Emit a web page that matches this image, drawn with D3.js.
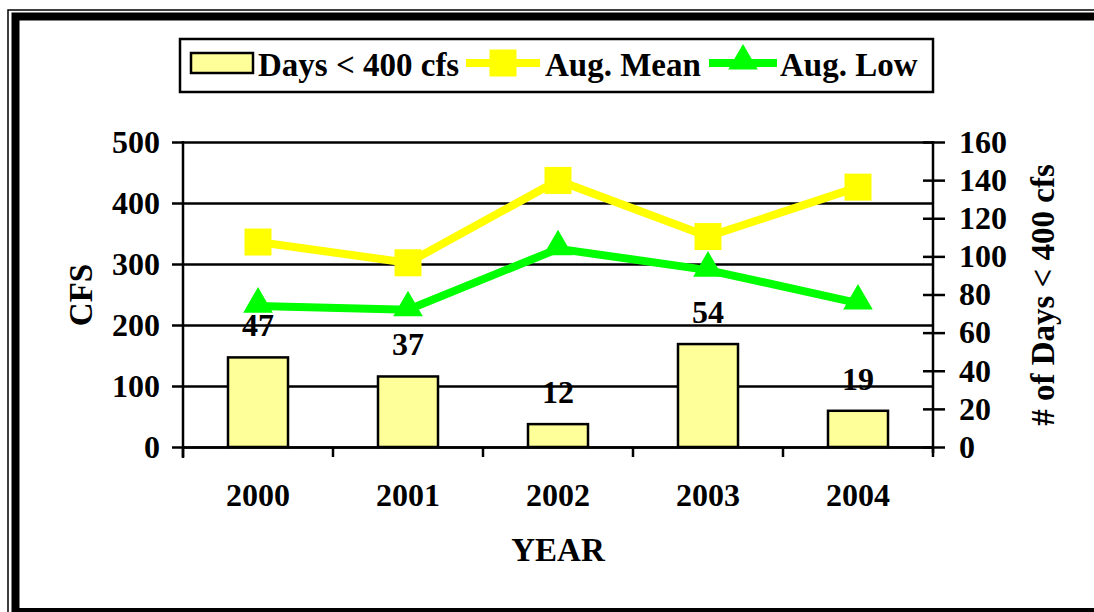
<!DOCTYPE html>
<html>
<head>
<meta charset="utf-8">
<script src="https://cdn.jsdelivr.net/npm/d3@7"></script>
<style>
  body { margin: 0; background: #fff; }
  svg text { font-family: "Liberation Serif", "Times New Roman", serif; font-weight: bold; fill: #000; }
</style>
</head>
<body>
<svg id="chart" width="1094" height="612"></svg>
<script>
// chart values
const years = ["2000", "2001", "2002", "2003", "2004"];
const daysBelow = [47, 37, 12, 54, 19];        // right axis
const augMean = [336, 302, 437, 345, 426];     // CFS
const augLow = [231, 225, 325, 290, 236];      // CFS
const cfsTicks = [0, 100, 200, 300, 400, 500];
const dayTicks = [0, 20, 40, 60, 80, 100, 120, 140, 160];

const svg = d3.select("#chart");

// frame round the whole thing (cut off right and bottom)
svg.append("rect").attr("x", 8).attr("y", 10).attr("width", 1200).attr("height", 700)
    .attr("fill", "none").attr("stroke", "#000").attr("stroke-width", 1.5);
svg.append("rect").attr("x", 15.5).attr("y", 16.5).attr("width", 1200).attr("height", 595.5)
    .attr("fill", "none").attr("stroke", "#000").attr("stroke-width", 8);

// plot box
const plotL = 183, plotR = 933, plotT = 142, plotB = 447;

const x = d3.scaleBand().domain(years).range([plotL, plotR]).paddingInner(0).paddingOuter(0);
const yL = d3.scaleLinear().domain([0, 500]).range([plotB, plotT]);
const yR = d3.scaleLinear().domain([0, 160]).range([plotB, plotT]);

// gridlines + left axis
const leftAxis = svg.append("g")
    .attr("transform", `translate(${plotL},0)`)
    .call(d3.axisLeft(yL).tickValues(cfsTicks).tickSize(11).tickPadding(12));
leftAxis.select(".domain").remove();
leftAxis.selectAll(".tick line").attr("stroke-width", 2.5);
leftAxis.selectAll(".tick line").clone()
    .attr("x2", plotR - plotL).attr("x1", 0);
leftAxis.selectAll("text").style("font-size", "32px");

// bars
svg.append("g").selectAll("rect")
    .data(years)
    .join("rect")
    .attr("x", d => x(d) + x.bandwidth() * 0.3)
    .attr("width", x.bandwidth() * 0.4)
    .attr("y", (d, i) => yR(daysBelow[i]))
    .attr("height", (d, i) => plotB - yR(daysBelow[i]))
    .attr("fill", "#ffff99")
    .attr("stroke", "#000")
    .attr("stroke-width", 2.5);

// bar labels
svg.append("g").selectAll("text")
    .data(years)
    .join("text")
    .attr("x", d => x(d) + x.bandwidth() / 2)
    .attr("y", (d, i) => yR(daysBelow[i]) - 21)
    .attr("text-anchor", "middle")
    .style("font-size", "32px")
    .text((d, i) => daysBelow[i]);

// axes lines
svg.append("line").attr("x1", plotL).attr("x2", plotL).attr("y1", plotT - 1).attr("y2", plotB + 11)
    .attr("stroke", "#000").attr("stroke-width", 2.5);
svg.append("line").attr("x1", plotR).attr("x2", plotR).attr("y1", plotT - 1).attr("y2", plotB + 6)
    .attr("stroke", "#000").attr("stroke-width", 2.5);

// x axis
const xAxis = svg.append("g")
    .attr("transform", `translate(0,${plotB})`)
    .call(d3.axisBottom(x).tickSize(0).tickPadding(36));
xAxis.select(".domain").attr("stroke-width", 2.5);
xAxis.selectAll("text").style("font-size", "32px");
xAxis.selectAll(".cat-tick")
    .data(years.map(d => x(d)).concat([plotR]))
    .join("line")
    .attr("class", "cat-tick")
    .attr("x1", d => d).attr("x2", d => d)
    .attr("y1", 0).attr("y2", 10)
    .attr("stroke", "#000").attr("stroke-width", 2.5);

// right axis, ticks cross the line
const rightAxis = svg.append("g")
    .attr("transform", `translate(${plotR},0)`)
    .call(d3.axisRight(yR).tickValues(dayTicks).tickSize(12).tickPadding(14));
rightAxis.select(".domain").remove();
rightAxis.selectAll(".tick line").attr("x1", -10).attr("stroke-width", 2.5);
rightAxis.selectAll("text").style("font-size", "32px");

// lines
const lineGen = vals => d3.line()
    .x((d, i) => x(years[i]) + x.bandwidth() / 2)
    .y(d => yL(d))(vals);

svg.append("path").attr("d", lineGen(augMean))
    .attr("fill", "none").attr("stroke", "#ffff00").attr("stroke-width", 8);
svg.append("path").attr("d", lineGen(augLow))
    .attr("fill", "none").attr("stroke", "#00ff00").attr("stroke-width", 8);

const sq = d3.symbol().type(d3.symbolSquare).size(27 * 27);
const tri = d3.symbol().type(d3.symbolTriangle).size(380);

svg.append("g").selectAll("path")
    .data(augMean)
    .join("path")
    .attr("transform", (d, i) => `translate(${x(years[i]) + x.bandwidth() / 2},${yL(d)})`)
    .attr("d", sq)
    .attr("fill", "#ffff00");

svg.append("g").selectAll("path")
    .data(augLow)
    .join("path")
    .attr("transform", (d, i) => `translate(${x(years[i]) + x.bandwidth() / 2},${yL(d) - 2})`)
    .attr("d", tri)
    .attr("fill", "#00ff00");

// axis titles
svg.append("text").attr("x", (plotL + plotR) / 2).attr("y", 561)
    .attr("text-anchor", "middle").style("font-size", "33px").text("YEAR");
svg.append("text").attr("transform", "translate(92,295) rotate(-90)")
    .attr("text-anchor", "middle").style("font-size", "33px").text("CFS");
svg.append("text").attr("transform", "translate(1054,295) rotate(-90)")
    .attr("text-anchor", "middle").style("font-size", "33px").text("# of Days < 400 cfs");

// legend
const legend = svg.append("g");
legend.append("rect").attr("x", 180).attr("y", 39).attr("width", 753).attr("height", 53)
    .attr("fill", "#fff").attr("stroke", "#000").attr("stroke-width", 2.5);

legend.append("rect").attr("x", 191).attr("y", 53).attr("width", 62).attr("height", 20)
    .attr("fill", "#ffff99").attr("stroke", "#000").attr("stroke-width", 2.5);
legend.append("text").attr("x", 258).attr("y", 76).style("font-size", "33px").text("Days < 400 cfs");

legend.append("line").attr("x1", 466).attr("x2", 540).attr("y1", 63).attr("y2", 63)
    .attr("stroke", "#ffff00").attr("stroke-width", 8);
legend.append("path").attr("transform", "translate(503,63)").attr("d", sq).attr("fill", "#ffff00");
legend.append("text").attr("x", 545).attr("y", 76).style("font-size", "33px").text("Aug. Mean");

legend.append("line").attr("x1", 709).attr("x2", 777).attr("y1", 63).attr("y2", 63)
    .attr("stroke", "#00ff00").attr("stroke-width", 8);
legend.append("path").attr("transform", "translate(743,61)").attr("d", tri).attr("fill", "#00ff00");
legend.append("text").attr("x", 780).attr("y", 76).style("font-size", "33px").text("Aug. Low");
</script>
</body>
</html>
